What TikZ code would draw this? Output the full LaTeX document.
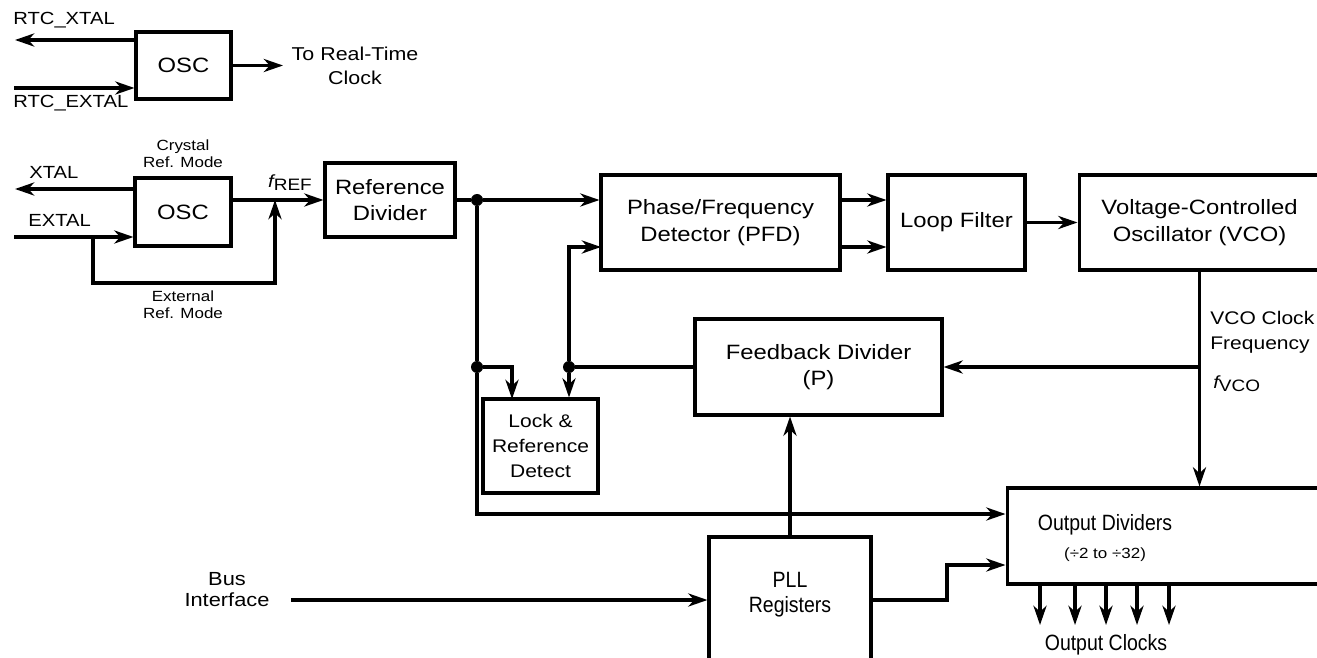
\documentclass[tikz,border=0pt]{standalone}
\usepackage{fontspec}
\setmainfont{Liberation Sans}[FakeStretch=1.15]
\newfontfamily\condfont{Liberation Sans}[FakeStretch=0.88]
\usetikzlibrary{arrows.meta}

\tikzset{
  blk/.style={draw, line width=1.75pt, inner sep=0pt, align=center},
  wire/.style={line width=1.75pt},
  arr/.style={wire, -{Stealth[length=11pt, width=7.5pt, inset=3.5pt]}},
  dot/.style={fill, circle, inner sep=0pt, minimum size=0.24cm},
  big/.style={font=\fontsize{11.8}{15}\selectfont},
  lbl/.style={font=\fontsize{10}{15.5}\selectfont, inner sep=0pt, align=center},
  mid/.style={font=\fontsize{10.4}{14.2}\selectfont, align=center},
  sml/.style={font=\fontsize{8.4}{9.6}\selectfont, align=center, inner sep=0pt},
  outtxt/.style={font=\condfont\fontsize{12.6}{14.4}\selectfont, align=center, inner sep=0pt}
}

\begin{document}
\begin{tikzpicture}[x=0.02cm, y=-0.02cm]
  \useasboundingbox (0,0) rectangle (1317,658);
  \clip (0,0) rectangle (1317,658);

  % RTC oscillator
  \node[blk, big, minimum width=1.9cm, minimum height=1.34cm] (rtcosc) at (183.5,65.5) {OSC};
  \coordinate (rtcx) at (15,40);
  \coordinate (rtce) at (14,88);
  \coordinate (rtco) at (283,65.5);
  \draw[arr] (rtcx -| rtcosc.west) -- (rtcx);
  \draw[arr] (rtce) -- (rtce -| rtcosc.west);
  \draw[arr] (rtcosc.east) -- (rtco);
  \node[lbl, anchor=west] (rtcxl) at (13,20) {RTC\_XTAL};
  \node[lbl, anchor=west] (rtcel) at (13,103) {RTC\_EXTAL};
  \node[lbl, font=\fontsize{10.6}{13.4}\selectfont] (rtcol) at (355,66) {To Real-Time\\Clock};

  % main oscillator and bypass
  \node[blk, big, minimum width=1.92cm, minimum height=1.36cm] (osc) at (183,212) {OSC};
  \node[blk, big, minimum width=2.6cm, minimum height=1.48cm] (refdiv) at (390,200) {Reference\\Divider};
  \coordinate (xt) at (15,189);
  \coordinate (ext) at (14,237);
  \coordinate (byp) at (93,237);
  \coordinate (bypb) at (93,283);
  \coordinate (fref) at (275,200);
  \draw[arr] (xt -| osc.west) -- (xt);
  \draw[arr] (ext) -- (ext -| osc.west);
  \draw[arr] (osc.east |- refdiv.west) -- (refdiv.west);
  \draw[arr] (byp) -- (bypb) -| (fref);
  \node[lbl, anchor=west] (xtl) at (29,172) {XTAL};
  \node[lbl, anchor=west] (extl) at (28,220) {EXTAL};
  \node[sml] (crys) at (183,154) {Crystal\\Ref. Mode};
  \node[sml] (extm) at (183,305) {External\\Ref. Mode};
  \node[lbl] (frefl) at (290,183) {{\itshape f}\raisebox{-0.35ex}{\fontsize{9.4}{10}\selectfont REF}};

  % loop
  \node[blk, big, minimum width=4.78cm, minimum height=1.9cm] (pfd) at (720.5,222.5) {Phase/Frequency\\Detector (PFD)};
  \node[blk, big, minimum width=2.74cm, minimum height=1.9cm] (loop) at (956.5,222.5) {Loop Filter};
  \node[blk, big, minimum width=4.82cm, minimum height=1.9cm] (vco) at (1199.5,222.5) {Voltage-Controlled\\Oscillator (VCO)};
  \node[blk, big, minimum width=4.94cm, minimum height=1.92cm] (fbdiv) at (818.5,367) {Feedback Divider\\(P)};
  \node[blk, mid, minimum width=2.3cm, minimum height=1.88cm] (lock) at (540.5,446) {Lock \&\\Reference\\Detect};
  \node[dot] (j1) at (477,200) {};
  \node[dot] (j2) at (477,367) {};
  \node[dot] (j3) at (569,367) {};
  \coordinate (pfdb) at (601,247);
  \coordinate (lka) at (512,399);
  \coordinate (cb) at (477,514);
  \draw[wire] (refdiv.east) -- (j1);
  \draw[arr] (j1) -- (j1 -| pfd.west);
  \draw[arr] (j3) |- (pfdb);
  \draw[arr] (pfd.east |- j1) -- (loop.west |- j1);
  \draw[arr] (pfd.east |- pfdb) -- (loop.west |- pfdb);
  \draw[arr] (loop.east) -- (vco.west);
  \draw[arr] (vco.south |- fbdiv.east) -- (fbdiv.east);
  \draw[wire] (fbdiv.west) -- (j3);
  \draw[arr] (j3) -- (j3 |- lock.north);
  \draw[arr] (j2) -| (lka);
  \draw[wire] (j1) -- (j2);

  % output side
  \node[blk, minimum width=6.46cm, minimum height=1.92cm] (outdiv) at (1168.5,536) {};
  \node[outtxt] (outdivtxt) at (1105,538) {Output Dividers\\[1pt]{\rmfamily\fontsize{8.4}{9.6}\selectfont (÷2 to ÷32)}};
  \node[blk, minimum width=3.24cm, minimum height=3cm] (pll) at (790,612) {};
  \node[outtxt] (plltxt) at (790,595) {PLL\\Registers};
  \coordinate (pa) at (947,600);
  \coordinate (pb) at (947,565);
  \coordinate (bus) at (291,600);
  \coordinate (clk) at (0,625);
  \draw[arr] (j2) -- (cb) -- (cb -| outdiv.west);
  \draw[arr] (vco.south) -- (vco.south |- outdiv.north);
  \draw[arr] (pll.north) -- (pll.north |- fbdiv.south);
  \draw[arr] (pll.east |- pa) -- (pa) -- (pb) -- (pb -| outdiv.west);
  \draw[arr] (bus) -- (bus -| pll.west);
  \foreach \cx in {1040,1075,1106,1137,1169}
    \draw[arr] (outdiv.south -| \cx,0) -- (clk -| \cx,0);
  \node[outtxt] (clkl) at (1106,645) {Output Clocks};
  \node[lbl, font=\fontsize{10.8}{12}\selectfont] (busl) at (227,590) {Bus\\Interface};
  \node[mid, anchor=west, align=left, inner sep=0pt] (vcol) at (1210,332) {VCO Clock\\Frequency};
  \node[lbl, anchor=west] (fvco) at (1213,384) {{\itshape f}\raisebox{-0.35ex}{\fontsize{9.4}{10}\selectfont VCO}};
\end{tikzpicture}
\end{document}
